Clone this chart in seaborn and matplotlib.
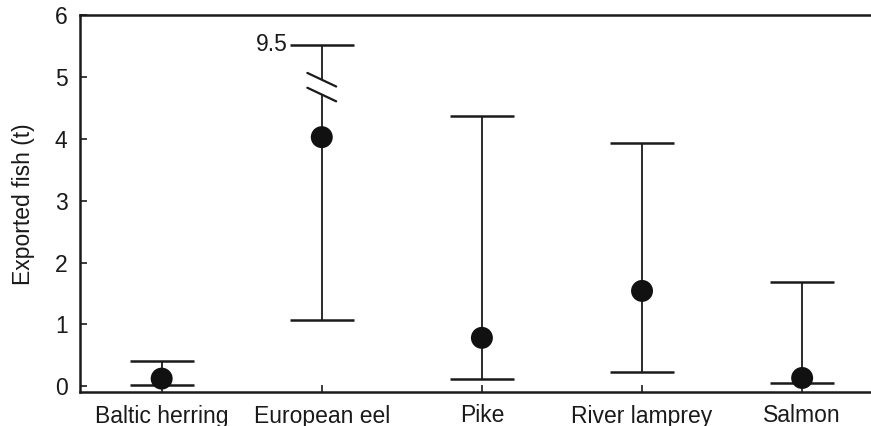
import matplotlib
matplotlib.use("Agg")
import matplotlib.pyplot as plt
import seaborn as sns
import pandas as pd

# Exported fish per species: median with lower/upper bounds (tonnes)
species = ["Baltic herring", "European eel", "Pike", "River lamprey", "Salmon"]
median = [0.12, 4.03, 0.78, 1.54, 0.13]
lower = [0.01, 1.07, 0.12, 0.23, 0.05]
upper = [0.40, 9.50, 4.37, 3.94, 1.68]

# Upper values beyond the axis are drawn on a broken scale
BREAK_LIMIT = 6.0
BREAK_SHIFT = 3.97


def shown(v):
    return v - BREAK_SHIFT if v > BREAK_LIMIT else v


df = pd.DataFrame({"species": species, "median": median,
                   "lower": lower, "upper": upper})
df["upper_shown"] = [shown(v) for v in df["upper"]]

sns.set_theme(style="ticks")
plt.rcParams["font.family"] = ["Liberation Sans", "DejaVu Sans"]

FS = 16.5
INK = "#1a1a1a"

fig = plt.figure(figsize=(8.71, 4.26), dpi=100)
ax = fig.add_axes([80 / 871, (426 - 392) / 426, 1 - 80 / 871, (392 - 15.5) / 426])

x = list(range(len(species)))
err = [df["median"] - df["lower"], df["upper_shown"] - df["median"]]
ax.errorbar(x, df["median"], yerr=err, fmt="none", ecolor=INK,
            elinewidth=1.3, capsize=23, capthick=1.8, zorder=2)

sns.scatterplot(x=x, y=df["median"], ax=ax, s=250, color="#111111",
                edgecolor="none", zorder=3, legend=False)

# Axis-break marks on the European eel bar
ie = species.index("European eel")
ax.plot([ie, ie], [4.75, 4.93], color="white", lw=3, zorder=2.5)
for yc in (4.96, 4.72):
    ax.plot([ie - 0.09, ie + 0.09], [yc + 0.11, yc - 0.11], color=INK,
            lw=1.6, zorder=2.6)

# True value of the broken upper bound
ax.text(ie - 0.21, shown(upper[ie]), f"{upper[ie]:g}", ha="right", va="center",
        fontsize=FS, color=INK)

ax.set_xlim(-0.51, 4.43)
ax.set_ylim(-0.097, 6)
ax.set_yticks(range(0, 7))
ax.set_xticks(x)
ax.set_xticklabels(species)
ax.set_ylabel("Exported fish (t)", fontsize=FS, labelpad=14, color=INK)
ax.tick_params(axis="both", direction="in", length=5, width=1.2,
               labelsize=FS, colors=INK, pad=9)
ax.tick_params(axis="x", pad=9)

for s in ("left", "bottom", "top"):
    ax.spines[s].set_linewidth(1.8)
    ax.spines[s].set_color(INK)
ax.spines["right"].set_visible(False)

fig.savefig("out.png", dpi=100)
